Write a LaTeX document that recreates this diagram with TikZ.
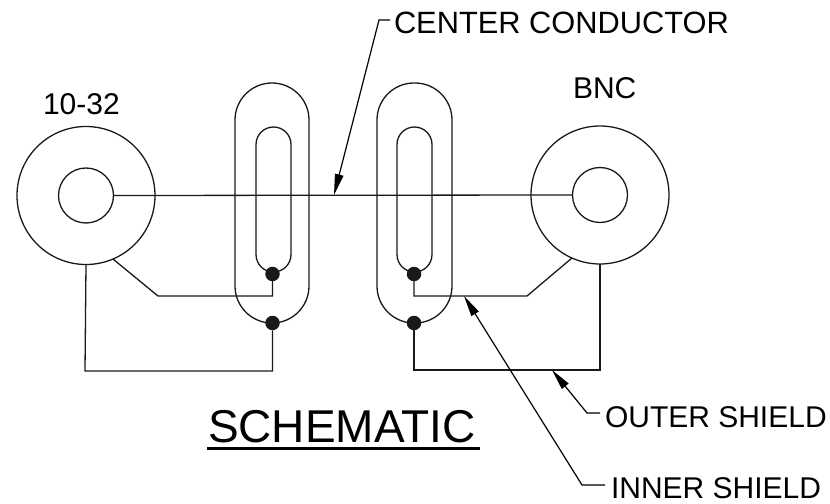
\documentclass[tikz,border=0pt]{standalone}
\usepackage{fontspec}
\setmainfont{Liberation Sans}
\usetikzlibrary{arrows.meta}
\tikzset{
  x=1bp,y=-1bp,
  wire/.style={draw=black!90,line width=1.3bp,line join=miter},
  ring/.style={circle,wire,inner sep=0pt,outer sep=0pt},
  pill/.style={wire,inner sep=0pt,outer sep=0pt,rectangle},
  junction/.style={circle,fill=black!90,inner sep=0pt,outer sep=0pt,minimum size=14.5bp},
  leader/.style={draw=black,line width=1.2bp,{Triangle[length=21bp,width=8.5bp]}-},
  lbl/.style={inner sep=0pt,outer sep=0pt,font=\fontsize{30bp}{30bp}\selectfont,text=black,anchor=base west},
}
\begin{document}
\begin{tikzpicture}
\useasboundingbox (0,0) rectangle (830,504);
\node[ring,minimum size=138bp] (outerL) at (86,195.5) {};
\node[ring,minimum size=55bp] (innerL) at (86,195.5) {};
\node[ring,minimum size=138bp] (outerR) at (600,195) {};
\node[ring,minimum size=55bp] (innerR) at (600,195) {};
\node[pill,rounded corners=37bp,minimum width=74bp,minimum height=240bp] (pillLO) at (272,203) {};
\node[pill,rounded corners=17.5bp,minimum width=35bp,minimum height=145bp] (pillLI) at (273.5,199.5) {};
\node[pill,rounded corners=37bp,minimum width=75bp,minimum height=240bp] (pillRO) at (414.5,203) {};
\node[pill,rounded corners=17.5bp,minimum width=35bp,minimum height=145bp] (pillRI) at (414.5,199.5) {};
\node[junction] (dotLI) at (272.5,274) {};
\node[junction] (dotLO) at (272.5,323) {};
\node[junction] (dotRI) at (414,274) {};
\node[junction] (dotRO) at (414,323) {};
\coordinate (bendL) at (158,296);
\coordinate (cornerL) at (272.5,296);
\coordinate (bendR) at (527,296);
\coordinate (cornerR) at (414,296);
\coordinate (lowL1) at (85,371);
\coordinate (lowL2) at (272.5,371);
\coordinate (lowR1) at (600,370);
\coordinate (lowR2) at (414,370);
\draw[wire] (innerL.east) -- (innerR.west);
\draw[wire] (outerL.-67) -- (bendL) -- (cornerL) -- (dotLI);
\draw[wire] (outerR.-114) -- (bendR) -- (cornerR) -- (dotRI);
\draw[wire] (outerL.south) -- (lowL1) -- (lowL2) -- (dotLO);
\draw[wire] (outerR.south) -- (lowR1) -- (lowR2) -- (dotRO);
\node[lbl] (t1032) at (43,115) {10-32};
\node[lbl] (tbnc) at (573,99) {BNC};
\node[lbl,font=\fontsize{30.8bp}{31bp}\selectfont] (tcc) at (394,33.5) {CENTER CONDUCTOR};
\node[lbl] (tos) at (605,427) {OUTER SHIELD};
\node[lbl] (tis) at (611,498) {INNER SHIELD};
\node[lbl,font=\fontsize{46bp}{46bp}\selectfont] (tsch) at (208,442) {SCHEMATIC};
\coordinate (ulA) at (207,448);
\coordinate (ulB) at (480,448);
\draw[line width=3bp] (ulA) -- (ulB);
\coordinate (tipC) at (334,195);
\coordinate (kneeC) at (379,20);
\coordinate (endC) at (390,20);
\draw[leader] (tipC) -- (kneeC) -- (endC);
\coordinate (tipI) at (464,296);
\coordinate (kneeI) at (582,485);
\coordinate (endI) at (605,485);
\draw[leader] (tipI) -- (kneeI) -- (endI);
\coordinate (tipO) at (552,370);
\coordinate (kneeO) at (587,413);
\coordinate (endO) at (600,413);
\draw[leader] (tipO) -- (kneeO) -- (endO);
\end{tikzpicture}
\end{document}
